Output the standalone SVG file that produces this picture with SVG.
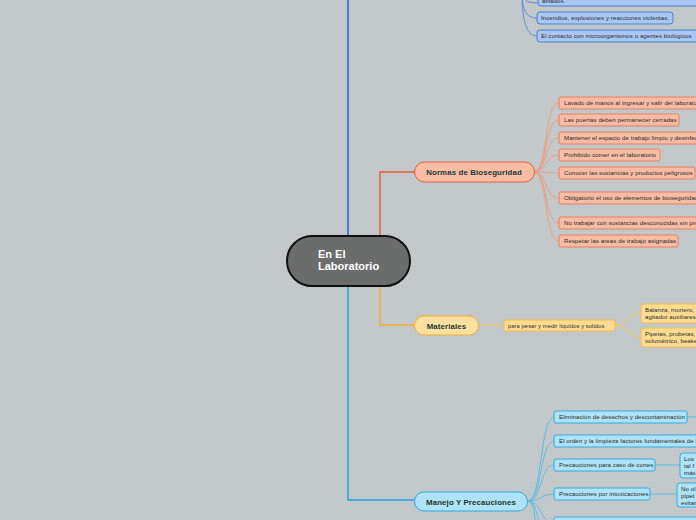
<svg xmlns="http://www.w3.org/2000/svg" width="696" height="520" viewBox="0 0 696 520">
<defs>
<pattern id="grid" width="4" height="4" patternUnits="userSpaceOnUse">
<rect width="4" height="4" fill="#c1c6c9"/>
<path d="M0 0.5H4M0.5 0V4" stroke="#c6cbce" stroke-width="0.6"/>
</pattern>
<style>
.t{font-family:"Liberation Sans",Arial,sans-serif;font-size:6.1px;letter-spacing:0.07px;fill:#2b2b2b;}
.h{font-family:"Liberation Sans",Arial,sans-serif;font-size:7.9px;font-weight:bold;fill:#1c3a2e;text-anchor:middle;letter-spacing:0.1px;}
.red{fill:#f8bba4;stroke:#e8805f;stroke-width:1;}
.blu{fill:#a9c7f4;stroke:#4a7fd6;stroke-width:1;}
.yel{fill:#fddc92;stroke:#f2bf4c;stroke-width:1;}
.cy{fill:#aee2f7;stroke:#38ace0;stroke-width:1;}
.cr{fill:none;stroke:#ee9c80;stroke-width:1;}
.cb{fill:none;stroke:#5b8ee0;stroke-width:1;}
.cc{fill:none;stroke:#5fbde3;stroke-width:1;}
.cyl{fill:none;stroke:#f4c65a;stroke-width:1;}
</style>
</defs>
<rect width="696" height="520" fill="url(#grid)"/>

<g id="connectors">
<path d="M348 0V236" fill="none" stroke="#1f5fe0" stroke-width="1.5"/>
<path d="M348 285V500H415" fill="none" stroke="#22a6e2" stroke-width="1.5"/>
<path d="M380 236V172H415" fill="none" stroke="#e8603a" stroke-width="1.5"/>
<path d="M380 285V325H415" fill="none" stroke="#f0b030" stroke-width="1.5"/>
<path class="cb" d="M522 -10C522 0 526 3 538 3"/>
<path class="cb" d="M522 -10C522 10 526 18 537 18"/>
<path class="cb" d="M522 -10C522 20 526 36 537 36"/>
<path class="cr" d="M534 172C548 172 544 103 559 103"/>
<path class="cr" d="M534 172C548 172 544 120 559 120"/>
<path class="cr" d="M534 172C548 172 544 138 559 138"/>
<path class="cr" d="M534 172C548 172 544 155 559 155"/>
<path class="cr" d="M534 172C548 172 544 173 559 173"/>
<path class="cr" d="M534 172C548 172 544 198 559 198"/>
<path class="cr" d="M534 172C548 172 544 223 559 223"/>
<path class="cr" d="M534 172C548 172 544 241 559 241"/>
<path class="cyl" d="M479 325H504"/>
<path class="cyl" d="M615 325C628 325 628 313 641 313"/>
<path class="cyl" d="M615 325C628 325 628 337 641 337"/>
<path class="cc" d="M528 501C542 501 540 417 554 417"/>
<path class="cc" d="M528 501C542 501 540 441 554 441"/>
<path class="cc" d="M528 501C542 501 540 465 554 465"/>
<path class="cc" d="M528 501C542 501 540 494 554 494"/>
<path class="cc" d="M528 501C542 501 540 523 554 523"/>
<path class="cc" d="M528 501C540 501 538 540 550 560"/>
<path class="cc" d="M528 501C538 501 534 540 540 580"/>
<path class="cc" d="M687 417H696"/>
<path class="cc" d="M655 465H680"/>
<path class="cc" d="M650 494H677"/>
</g>

<g id="center">
<rect x="287" y="236" width="123" height="50" rx="25" fill="#6b6d6d" stroke="#111" stroke-width="2"/>
<text x="318" y="258" font-family="'Liberation Sans',Arial,sans-serif" font-size="11" font-weight="bold" fill="#fff">En El</text>
<text x="318" y="270" font-family="'Liberation Sans',Arial,sans-serif" font-size="11" font-weight="bold" fill="#fff">Laboratorio</text>
</g>

<g id="b1"><rect class="blu" x="538" y="-10" width="170" height="16" rx="3"/><text class="t" x="542" y="3">afilados.</text></g>
<g id="b2"><rect class="blu" x="537" y="12" width="136" height="12" rx="3"/><text class="t" x="541" y="20">Incendios, explosiones y reacciones violentas.</text></g>
<g id="b3"><rect class="blu" x="537" y="30" width="170" height="12" rx="3"/><text class="t" x="541" y="38">El contacto con microorganismos o agentes biológicos</text></g>

<g id="normas"><rect x="414.5" y="162" width="120" height="20" rx="10" fill="#f9bca4" stroke="#e8603a" stroke-width="1"/><text class="h" x="474" y="175">Normas de Bioseguridad</text></g>
<g id="n1"><rect class="red" x="559" y="97" width="150" height="12" rx="2"/><text class="t" x="564" y="105">Lavado de manos al ingresar y salir del laboratorio</text></g>
<g id="n2"><rect class="red" x="559" y="114" width="120" height="12" rx="2"/><text class="t" x="564" y="122">Las puertas deben permanecer cerradas</text></g>
<g id="n3"><rect class="red" x="559" y="132" width="150" height="12" rx="2"/><text class="t" x="564" y="140">Mantener el espacio de trabajo limpio y desinfectado</text></g>
<g id="n4"><rect class="red" x="559" y="149" width="101" height="12" rx="2"/><text class="t" x="564" y="157">Prohibido comer en el laboratorio</text></g>
<g id="n5"><rect class="red" x="559" y="167" width="136" height="12" rx="2"/><text class="t" x="564" y="175">Conocer las sustancias y productos peligrosos</text></g>
<g id="n6"><rect class="red" x="559" y="192" width="150" height="12" rx="2"/><text class="t" x="564" y="200">Obligatorio el uso de elementos de bioseguridad</text></g>
<g id="n7"><rect class="red" x="559" y="217" width="150" height="12" rx="2"/><text class="t" x="564" y="225">No trabajar con sustancias desconocidas sin precaución</text></g>
<g id="n8"><rect class="red" x="559" y="235" width="119" height="12" rx="2"/><text class="t" x="564" y="243">Respetar las areas de trabajo asignadas</text></g>

<g id="materiales"><rect x="414.5" y="316" width="64" height="19" rx="9.5" fill="#fde0a0" stroke="#f0b030" stroke-width="1"/><text class="h" x="446.5" y="328.5">Materiales</text></g>
<g id="m1"><rect class="yel" x="504" y="320" width="111" height="11" rx="2"/><text class="t" x="508" y="327.5" style="font-size:5.8px">para pesar y medir liquidos y solidos</text></g>
<g id="m2"><rect class="yel" x="641" y="304" width="70" height="19" rx="3"/><text class="t" x="645" y="312">Balanza, mortero,</text><text class="t" x="645" y="319">agitador auxiliares</text></g>
<g id="m3"><rect class="yel" x="641" y="328" width="70" height="19" rx="3"/><text class="t" x="645" y="336">Pipetas, probetas,</text><text class="t" x="645" y="343">volumétrico, beakers</text></g>

<g id="manejo"><rect x="414.5" y="492" width="113" height="19" rx="9.5" fill="#aee3f7" stroke="#2fa8e0" stroke-width="1"/><text class="h" x="471" y="504.5">Manejo Y Precauciones</text></g>
<g id="p1"><rect class="cy" x="554" y="411" width="133" height="12" rx="2"/><text class="t" x="559" y="419">Eliminación de desechos y descontaminación</text></g>
<g id="p2"><rect class="cy" x="554" y="435" width="160" height="12" rx="2"/><text class="t" x="559" y="443">El orden y la limpieza factores fundamentales de la seguridad</text></g>
<g id="p3"><rect class="cy" x="554" y="459" width="101" height="12" rx="2"/><text class="t" x="559" y="467">Precauciones para caso de cortes</text></g>
<g id="p3a"><rect class="cy" x="680" y="453" width="30" height="25" rx="3"/><text class="t" x="684" y="461">Los</text><text class="t" x="684" y="468">tal f</text><text class="t" x="684" y="475">más</text></g>
<g id="p4"><rect class="cy" x="554" y="488" width="96" height="12" rx="2"/><text class="t" x="559" y="496">Precauciones por intoxicaciones</text></g>
<g id="p4a"><rect class="cy" x="677" y="483" width="30" height="24" rx="3"/><text class="t" x="681" y="491">No ol</text><text class="t" x="681" y="498">pipet</text><text class="t" x="681" y="505">evitar</text></g>
<g id="p5"><rect class="cy" x="554" y="517" width="160" height="12" rx="2"/></g>
</svg>
